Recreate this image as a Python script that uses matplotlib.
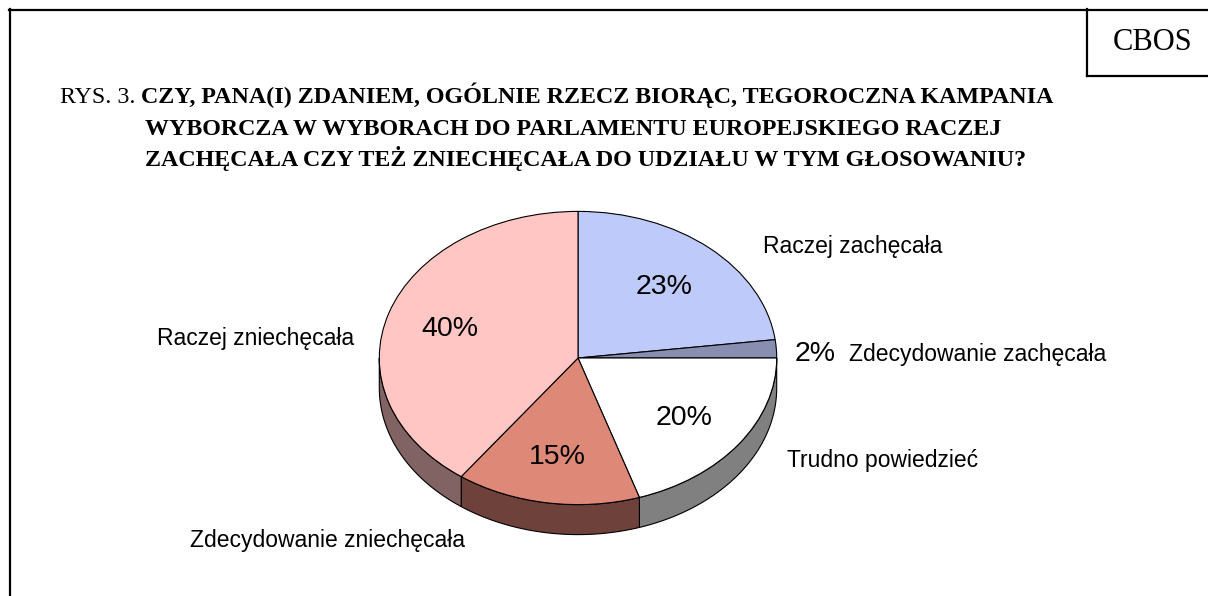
import numpy as np
import matplotlib
matplotlib.use("Agg")
import matplotlib.pyplot as plt
from matplotlib.patches import Polygon
from matplotlib.lines import Line2D

# ---- data ----
categories = ["Raczej zachęcała", "Zdecydowanie zachęcała", "Trudno powiedzieć",
              "Zdecydowanie zniechęcała", "Raczej zniechęcała"]
values = [23, 2, 20, 15, 40]
pct_labels = ["23%", "2%", "20%", "15%", "40%"]

# ---- styles ----
top_colors = ["#BECAF9", "#878EB0", "#FFFFFF", "#DE8878", "#FFC6C4"]
side_colors = ["#8E97BB", "#666B85", "#808080", "#6E413B", "#806362"]

W, H = 1208, 596
fig = plt.figure(figsize=(W / 100, H / 100), dpi=100)
fig.patch.set_facecolor("white")

# pie geometry (pixels)
cx, cy, rx, ry, depth = 578.0, 358.0, 198.7, 146.6, 30.0
d = depth / ry

ax = fig.add_axes([0, 0, 1, 1])
wedges, _ = ax.pie(values, colors=top_colors, startangle=90, counterclock=False,
                   radius=1.0,
                   wedgeprops=dict(edgecolor="black", linewidth=0.8, zorder=3))
ax.set_aspect("auto")
ax.set_xlim(-cx / rx, (W - cx) / rx)
ax.set_ylim((cy - H) / ry, cy / ry)
ax.axis("off")

# side (depth) faces, from wedge angles
total = float(sum(values))
start = 90.0
for v, sc in zip(values, side_colors):
    end = start - 360.0 * v / total
    a1, a2 = end, start
    for shift in (0.0, 360.0, -360.0):
        lo = max(a1 + shift, -180.0)
        hi = min(a2 + shift, 0.0)
        if hi > lo:
            t = np.radians(np.linspace(lo, hi, 80))
            xs = np.cos(t)
            ys = np.sin(t)
            pts = np.concatenate([np.column_stack([xs, ys]),
                                  np.column_stack([xs[::-1], ys[::-1] - d])])
            ax.add_patch(Polygon(pts, closed=True, facecolor=sc, edgecolor="black",
                                 linewidth=0.8, zorder=1))
    start = end

# ---- overlay for text in pixel coordinates ----
tx = fig.add_axes([0, 0, 1, 1], zorder=5)
tx.set_xlim(0, W)
tx.set_ylim(H, 0)
tx.axis("off")
tx.patch.set_alpha(0)

sans = "Liberation Sans"
serif = "Liberation Serif"

# category labels
cat_pos = [(763, 247), (849, 354), (787, 461), (190, 540), (157, 339)]
for lab, (x, y) in zip(categories, cat_pos):
    tx.text(x, y, lab, fontsize=16.5, family=sans, ha="left", va="center")

# percent labels
pct_pos = [(664, 287), (795, 354), (684, 418), (557, 457), (450, 329)]
pct_ha = ["center", "left", "center", "center", "center"]
for lab, (x, y), ha in zip(pct_labels, pct_pos, pct_ha):
    tx.text(x, y, lab, fontsize=20.5, family=sans, ha=ha, va="center")

# title
tfs = 17.3
tx.text(60, 103, "RYS. 3.", fontsize=tfs, family=serif, ha="left", va="baseline")
tx.text(141, 103, "CZY, PANA(I) ZDANIEM, OGÓLNIE RZECZ BIORĄC, TEGOROCZNA KAMPANIA",
        fontsize=tfs, family=serif, fontweight="bold", ha="left", va="baseline")
tx.text(145, 135, "WYBORCZA W WYBORACH DO PARLAMENTU EUROPEJSKIEGO RACZEJ",
        fontsize=tfs, family=serif, fontweight="bold", ha="left", va="baseline")
tx.text(145, 166, "ZACHĘCAŁA CZY TEŻ ZNIECHĘCAŁA DO UDZIAŁU W TYM GŁOSOWANIU?",
        fontsize=tfs, family=serif, fontweight="bold", ha="left", va="baseline")

# CBOS box and frame
tx.text(1153, 42, "CBOS", fontsize=22, family=serif, ha="center", va="center")
lw = 1.6
tx.add_line(Line2D([9, W], [10, 10], color="black", linewidth=lw))
tx.add_line(Line2D([10, 10], [9, H], color="black", linewidth=lw))
tx.add_line(Line2D([1087, 1087], [9, 76], color="black", linewidth=lw))
tx.add_line(Line2D([1087, W], [76, 76], color="black", linewidth=lw))

fig.savefig("out.png", dpi=100, facecolor="white")
